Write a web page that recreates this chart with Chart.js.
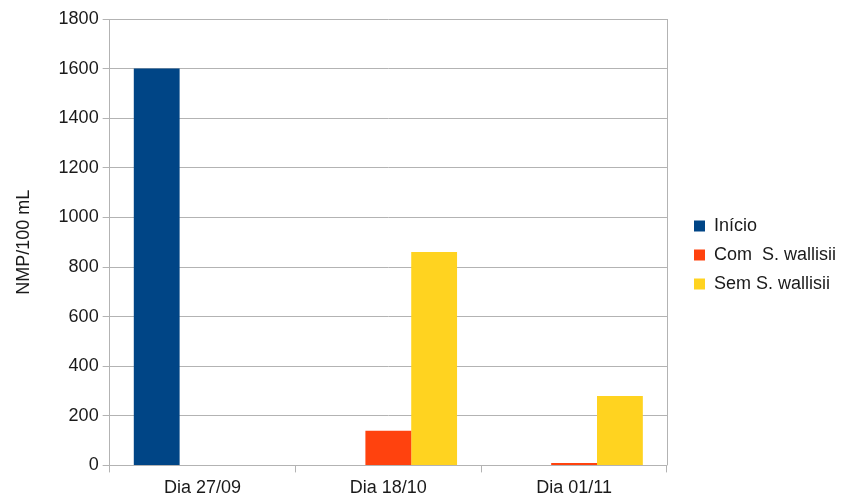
<!DOCTYPE html>
<html>
<head>
<meta charset="utf-8">
<script src="https://cdn.jsdelivr.net/npm/chart.js@4"></script>
<style>
  body { margin: 0; background: #fff; }
  #wrap { width: 846px; height: 503px; }
</style>
</head>
<body>
<div id="wrap"><canvas id="chartCanvas" width="846" height="503"></canvas></div>
<script>
const categories = ['Dia 27/09', 'Dia 18/10', 'Dia 01/11'];
const inicio = [1600, 0, 0];
const comWallisii = [0, 140, 10];
const semWallisii = [0, 860, 280];
const yTicks = [0, 200, 400, 600, 800, 1000, 1200, 1400, 1600, 1800];

const gridColor = '#b3b3b3';
const textColor = '#1a1a1a';
const font = { family: '"Liberation Sans", Arial, sans-serif', size: 18 };
const legendGap = 16;
const legendLift = 6;

// legend sits a bit away from the plot, so widen it and shift its content
const legendShift = {
    id: 'legendShift',
    beforeLayout(chart) {
        const lg = chart.legend;
        if (!lg || lg._shifted) return;
        lg._shifted = true;
        const fit = lg.fit;
        const draw = lg.draw;
        lg.fit = function () { fit.call(this); this.width += legendGap; };
        lg.draw = function () {
            this.ctx.save();
            this.ctx.translate(legendGap, -legendLift);
            draw.call(this);
            this.ctx.restore();
        };
    }
};

// right edge of the plot frame
const plotBorder = {
    id: 'plotBorder',
    afterDatasetsDraw(chart) {
        const a = chart.chartArea;
        const ctx = chart.ctx;
        ctx.save();
        ctx.strokeStyle = gridColor;
        ctx.lineWidth = 1;
        ctx.beginPath();
        ctx.moveTo(Math.round(a.right) + 0.5, a.top);
        ctx.lineTo(Math.round(a.right) + 0.5, a.bottom);
        ctx.stroke();
        ctx.restore();
    }
};

const chartData = {
    labels: categories,
    datasets: [
        { label: 'Início', data: inicio, backgroundColor: '#004586' },
        { label: 'Com  S. wallisii', data: comWallisii, backgroundColor: '#ff420e' },
        { label: 'Sem S. wallisii', data: semWallisii, backgroundColor: '#ffd320' }
    ]
};

const chartOptions = {
    responsive: false,
    animation: false,
    layout: { padding: { top: 19, right: 0, bottom: 0, left: 7 } },
    datasets: { bar: { categoryPercentage: 0.74, barPercentage: 1.0 } },
    plugins: {
        legend: {
            position: 'right',
            labels: {
                boxWidth: 11,
                boxHeight: 11,
                padding: 11,
                color: textColor,
                font: font
            }
        },
        tooltip: { enabled: false }
    },
    scales: {
        x: {
            offset: true,
            grid: { offset: true, drawOnChartArea: false, color: gridColor, tickLength: 7 },
            border: { color: gridColor },
            ticks: { color: textColor, font: font, padding: 4.5 }
        },
        y: {
            min: 0,
            max: 1800,
            afterBuildTicks: (scale) => { scale.ticks = yTicks.map(v => ({ value: v })); },
            grid: { color: gridColor, tickLength: 7 },
            border: { color: gridColor },
            ticks: { color: textColor, font: font, padding: 4, callback: (v) => String(v) },
            title: { display: true, text: 'NMP/100 mL', color: textColor, font: font, padding: { top: 6, bottom: 20 } }
        }
    }
};

new Chart(document.getElementById('chartCanvas'), {
    type: 'bar',
    data: chartData,
    options: chartOptions,
    plugins: [legendShift, plotBorder]
});
</script>
</body>
</html>
